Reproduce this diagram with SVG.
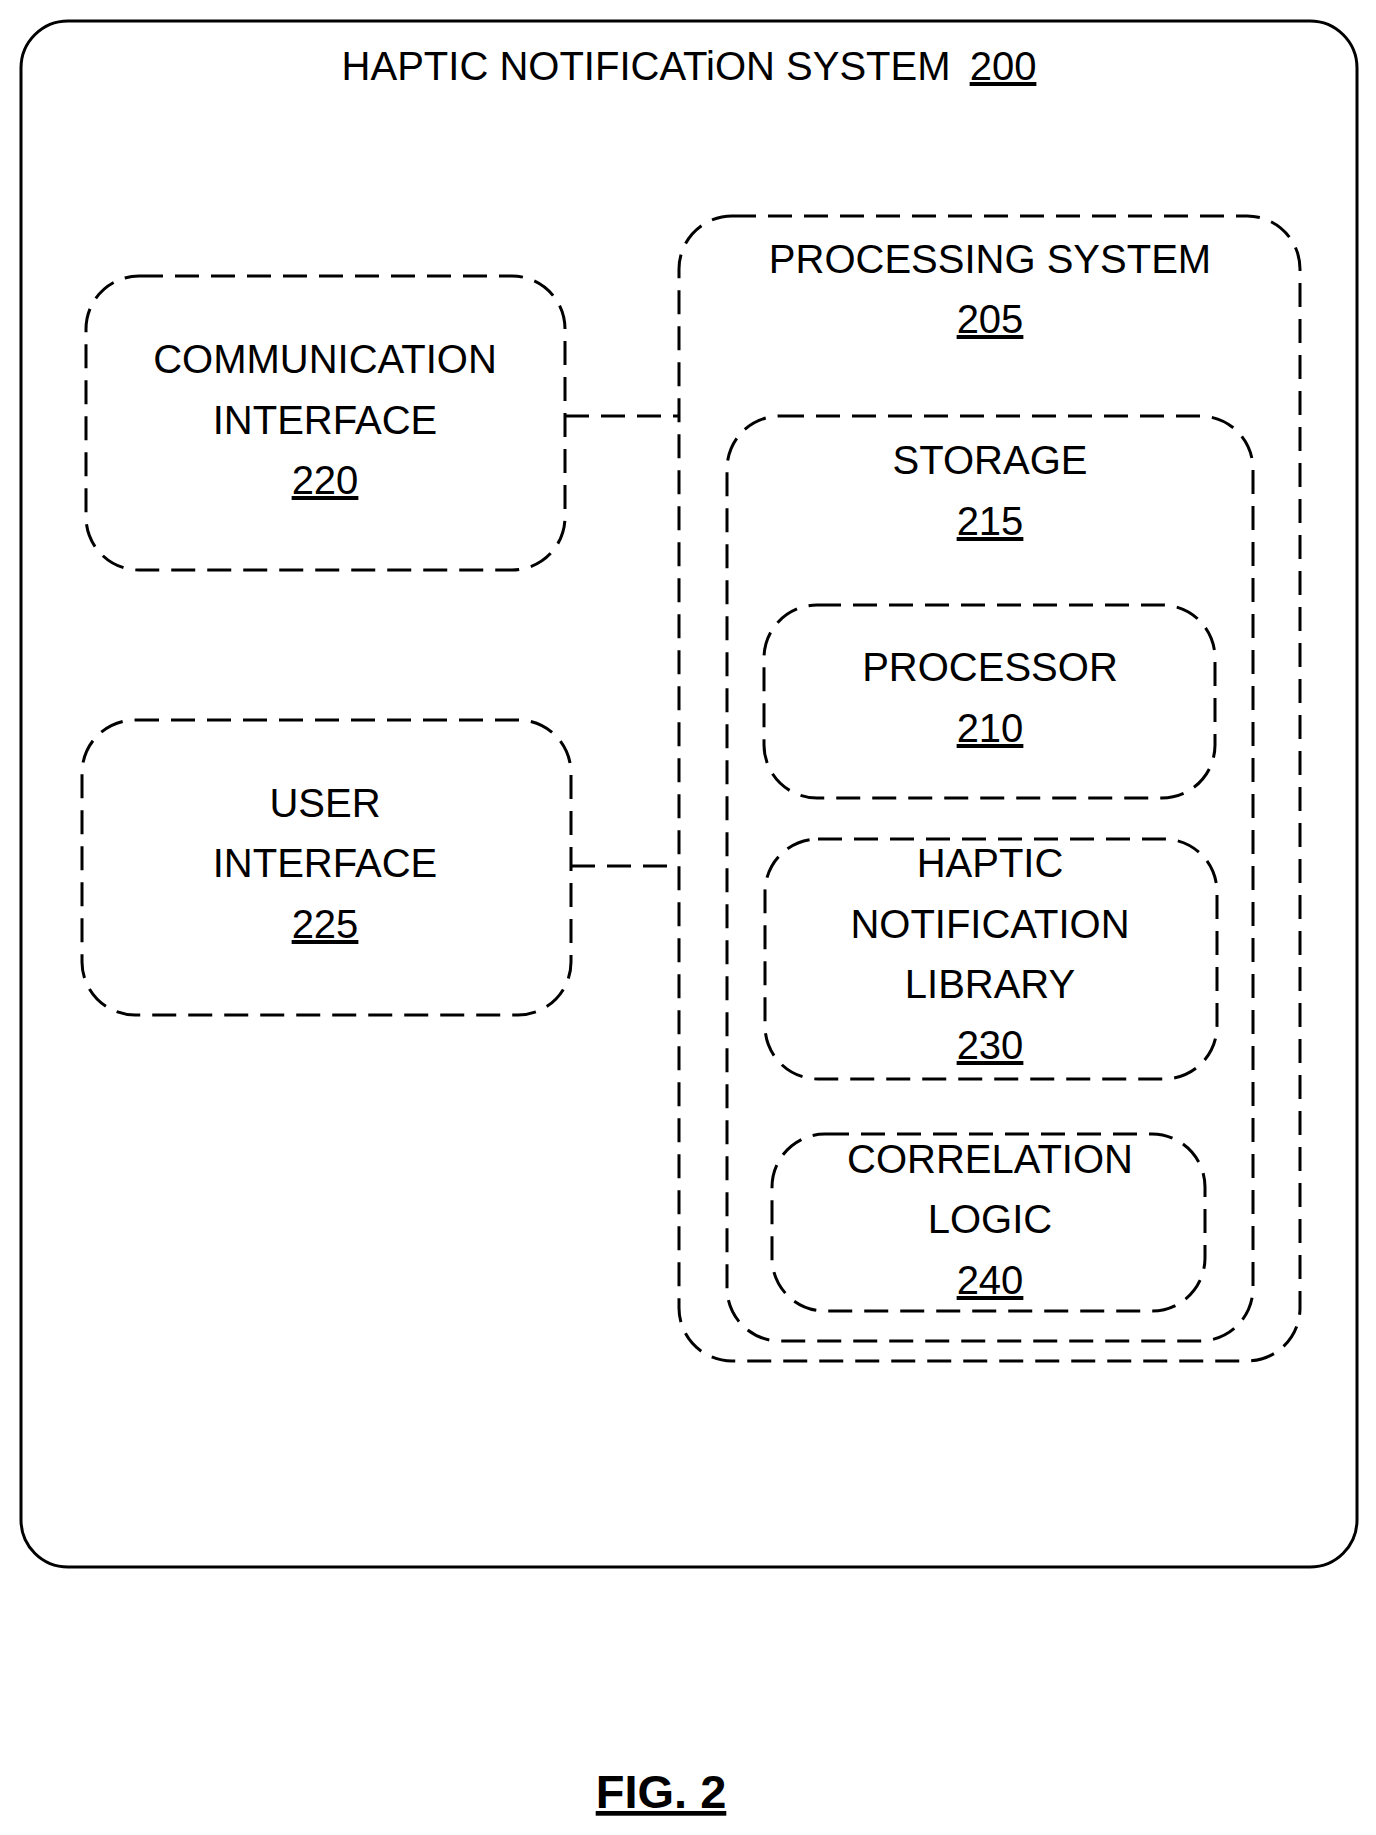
<svg xmlns="http://www.w3.org/2000/svg" width="1376" height="1835" viewBox="0 0 1376 1835">
<style>
.d{fill:none;stroke:#000;stroke-width:3;stroke-dasharray:24 12}
.t{font-family:"Liberation Sans",Arial,sans-serif;font-size:40px;text-anchor:middle;fill:#000}
.u{text-decoration:underline}
</style>
<rect width="1376" height="1835" fill="#fff"/>
<g id="system200">
<rect x="21" y="21" width="1336" height="1546" rx="47" fill="none" stroke="#000" stroke-width="3"/>
<text class="t" x="689" y="80">HAPTIC NOTIFICATiON SYSTEM  <tspan class="u" dx="8">200</tspan></text>
</g>
<g id="comm220">
<rect class="d" x="86" y="276" width="479" height="294" rx="53"/>
<text class="t" x="325" y="373">COMMUNICATION</text>
<text class="t" x="325" y="434">INTERFACE</text>
<text class="t u" x="325" y="494">220</text>
</g>
<g id="user225">
<rect class="d" x="82" y="720" width="489" height="295" rx="53"/>
<text class="t" x="325" y="817">USER</text>
<text class="t" x="325" y="877">INTERFACE</text>
<text class="t u" x="325" y="938">225</text>
</g>
<g id="proc205">
<rect class="d" x="679" y="216" width="621" height="1145" rx="53"/>
<text class="t" x="990" y="273">PROCESSING SYSTEM</text>
<text class="t u" x="990" y="333">205</text>
</g>
<g id="storage215">
<rect class="d" x="727" y="416" width="526" height="925" rx="53"/>
<text class="t" x="990" y="474">STORAGE</text>
<text class="t u" x="990" y="535">215</text>
</g>
<g id="processor210">
<rect class="d" x="764" y="605" width="451" height="193" rx="53"/>
<text class="t" x="990" y="681">PROCESSOR</text>
<text class="t u" x="990" y="742">210</text>
</g>
<g id="library230">
<rect class="d" x="765" y="839" width="452" height="240" rx="53"/>
<text class="t" x="990" y="877">HAPTIC</text>
<text class="t" x="990" y="938">NOTIFICATION</text>
<text class="t" x="990" y="998">LIBRARY</text>
<text class="t u" x="990" y="1059">230</text>
</g>
<g id="logic240">
<rect class="d" x="772" y="1134" width="433" height="177" rx="53"/>
<text class="t" x="990" y="1173">CORRELATION</text>
<text class="t" x="990" y="1233">LOGIC</text>
<text class="t u" x="990" y="1294">240</text>
</g>
<g id="connectors">
<line class="d" x1="565" y1="416" x2="679" y2="416"/>
<line class="d" x1="571" y1="866" x2="679" y2="866"/>
</g>
<text x="661" y="1808" style="font-family:'Liberation Sans',Arial,sans-serif;font-size:47px;font-weight:bold;text-anchor:middle;text-decoration:underline">FIG. 2</text>
</svg>
